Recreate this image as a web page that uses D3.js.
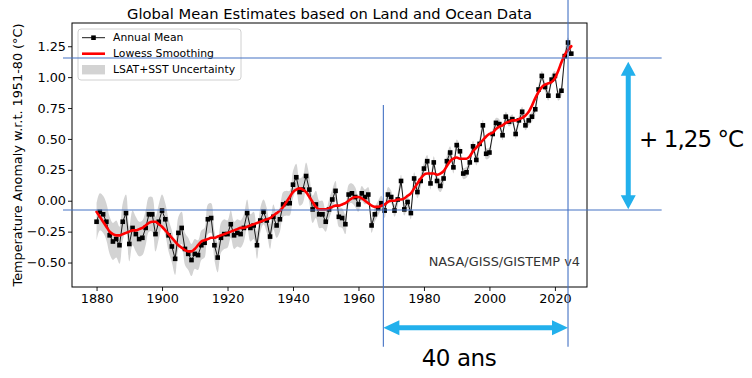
<!DOCTYPE html>
<html>
<head>
<meta charset="utf-8">
<script src="https://cdn.jsdelivr.net/npm/d3@7/dist/d3.min.js"></script>
<style>
  html, body { margin: 0; padding: 0; background: #fff; }
  svg { display: block; }
  text { font-family: "DejaVu Sans", sans-serif; }
</style>
</head>
<body>
<svg id="chart" width="752" height="378"></svg>
<script>
// ---------------- DATA ----------------
const firstYear = 1880;
const annualMean = [
  -0.17,-0.09,-0.11,-0.17,-0.28,-0.33,-0.31,-0.36,-0.17,-0.10,
  -0.35,-0.22,-0.27,-0.31,-0.30,-0.22,-0.11,-0.11,-0.27,-0.17,
  -0.08,-0.15,-0.28,-0.37,-0.47,-0.26,-0.22,-0.39,-0.43,-0.48,
  -0.43,-0.44,-0.36,-0.34,-0.15,-0.14,-0.36,-0.46,-0.30,-0.27,
  -0.27,-0.19,-0.28,-0.26,-0.27,-0.22,-0.10,-0.22,-0.20,-0.36,
  -0.16,-0.09,-0.16,-0.29,-0.13,-0.20,-0.15,-0.03,-0.02,-0.02,
   0.13, 0.19, 0.07, 0.09, 0.20, 0.09,-0.07,-0.03,-0.11,-0.11,
  -0.17,-0.07, 0.01, 0.08,-0.13,-0.14,-0.19, 0.05, 0.06, 0.03,
  -0.03, 0.06, 0.03, 0.05,-0.20,-0.11,-0.06,-0.02,-0.08, 0.05,
   0.03,-0.08, 0.01, 0.16,-0.07,-0.01,-0.10, 0.18, 0.07, 0.16,
   0.26, 0.32, 0.14, 0.31, 0.16, 0.12, 0.18, 0.32, 0.39, 0.27,
   0.45, 0.40, 0.22, 0.23, 0.31, 0.44, 0.33, 0.46, 0.61, 0.38,
   0.39, 0.54, 0.63, 0.62, 0.53, 0.68, 0.64, 0.66, 0.54, 0.65,
   0.72, 0.61, 0.65, 0.68, 0.74, 0.90, 1.01, 0.92, 0.85, 0.98,
   1.01, 0.85, 0.89, 1.17, 1.28, 1.19
];
const lowess = [
  -0.09,-0.13,-0.17,-0.21,-0.25,-0.27,-0.28,-0.28,-0.27,-0.26,
  -0.25,-0.24,-0.24,-0.23,-0.22,-0.20,-0.18,-0.17,-0.17,-0.19,
  -0.21,-0.24,-0.27,-0.30,-0.33,-0.36,-0.38,-0.40,-0.41,-0.41,
  -0.39,-0.36,-0.33,-0.32,-0.31,-0.30,-0.30,-0.29,-0.28,-0.27,
  -0.26,-0.25,-0.24,-0.23,-0.22,-0.22,-0.21,-0.20,-0.19,-0.18,
  -0.17,-0.16,-0.15,-0.14,-0.12,-0.10,-0.08,-0.05,-0.01, 0.03,
   0.07, 0.09, 0.10, 0.09, 0.07, 0.03,-0.01,-0.05,-0.07,-0.07,
  -0.07,-0.06,-0.05,-0.04,-0.04,-0.03,-0.02, 0.00, 0.02, 0.03,
   0.03, 0.02, 0.00,-0.02,-0.04,-0.05,-0.05,-0.04,-0.03,-0.01,
   0.00, 0.00, 0.01, 0.01, 0.02, 0.04, 0.06, 0.10, 0.14, 0.18,
   0.21, 0.22, 0.22, 0.22, 0.21, 0.22, 0.24, 0.28, 0.32, 0.34,
   0.35, 0.34, 0.34, 0.34, 0.36, 0.40, 0.43, 0.46, 0.49, 0.52,
   0.54, 0.55, 0.58, 0.60, 0.61, 0.63, 0.64, 0.65, 0.65, 0.66,
   0.67, 0.69, 0.72, 0.77, 0.83, 0.88, 0.92, 0.94, 0.95, 0.96,
   0.99, 1.05, 1.12, 1.18, 1.22, 1.25
];
// half-width of the uncertainty band, one value per decade (1880s ... 2020s)
const decadeUncertainty = [0.15,0.14,0.13,0.12,0.11,0.10,0.11,0.08,0.06,0.05,0.05,0.045,0.04,0.04,0.04];
const xTicks = [1880,1900,1920,1940,1960,1980,2000,2020];
const yTicks = [-0.50,-0.25,0.00,0.25,0.50,0.75,1.00,1.25];
const titleText = "Global Mean Estimates based on Land and Ocean Data";
const yLabelText = "Temperature Anomaly w.r.t. 1951-80 (°C)";
const legendLabels = ["Annual Mean", "Lowess Smoothing", "LSAT+SST Uncertainty"];
const sourceText = "NASA/GISS/GISTEMP v4";
// annotation (hand-drawn overlay) in data units
const annoHLines = [1.155, -0.075];
const annoVLines = [{year: 1967.6, top: 0.7745}, {year: 2024.0, top: 1.624}];
const annoSpanYears = [1967.6, 2024.0];
const annoDeltaValues = [1.125, -0.069];
const annoDeltaLabel = "+ 1,25 °C";
const annoSpanLabel = "40 ans";

// ---------------- CHART ----------------
const svg = d3.select("#chart");
const plot = {left: 72, right: 587, top: 23, bottom: 287};

const x = d3.scaleLinear().domain([1872.5, 2029.8]).range([plot.left, plot.right]);
const y = d3.scaleLinear().domain([-0.698, 1.438]).range([plot.bottom, plot.top]);

const data = annualMean.map((v, i) => ({
  year: firstYear + i,
  mean: v,
  smooth: lowess[i],
  unc: decadeUncertainty[Math.floor(i / 10)]
}));

// uncertainty band
const band = d3.area()
  .x(d => x(d.year))
  .y0(d => y(d.mean - d.unc))
  .y1(d => y(d.mean + d.unc))
  .curve(d3.curveCatmullRom.alpha(0.5));
svg.append("path").datum(data).attr("d", band)
  .attr("fill", "#d3d3d3").attr("stroke", "none");

// annual mean line
svg.append("path").datum(data)
  .attr("d", d3.line().x(d => x(d.year)).y(d => y(d.mean)))
  .attr("fill", "none").attr("stroke", "#000").attr("stroke-width", 0.9);

// markers
const ms = 4.6;
svg.append("g").selectAll("rect").data(data).join("rect")
  .attr("x", d => x(d.year) - ms / 2).attr("y", d => y(d.mean) - ms / 2)
  .attr("width", ms).attr("height", ms).attr("fill", "#000");

// lowess
svg.append("path").datum(data)
  .attr("d", d3.line().x(d => x(d.year)).y(d => y(d.smooth)).curve(d3.curveMonotoneX))
  .attr("fill", "none").attr("stroke", "#ff0000").attr("stroke-width", 2.6)
  .attr("stroke-linejoin", "round").attr("stroke-linecap", "round");

// axes
const fmt = v => d3.format(".2f")(v).replace("-", "\u2212");
const xAxis = svg.append("g").attr("transform", `translate(0,${plot.bottom})`)
  .call(d3.axisBottom(x).tickValues(xTicks).tickFormat(d3.format("d")).tickSize(4).tickPadding(3));
const yAxis = svg.append("g").attr("transform", `translate(${plot.left},0)`)
  .call(d3.axisLeft(y).tickValues(yTicks).tickFormat(fmt).tickSize(4).tickPadding(2));
[xAxis, yAxis].forEach(g => {
  g.select(".domain").remove();
  g.selectAll("text").attr("font-family", "DejaVu Sans").attr("font-size", 12.8).attr("fill", "#000");
  g.selectAll("line").attr("stroke", "#000").attr("stroke-width", 0.9);
});

// frame
svg.append("rect").attr("x", plot.left).attr("y", plot.top)
  .attr("width", plot.right - plot.left).attr("height", plot.bottom - plot.top)
  .attr("fill", "none").attr("stroke", "#000").attr("stroke-width", 1);

// title
svg.append("text").attr("x", (plot.left + plot.right) / 2).attr("y", 19)
  .attr("text-anchor", "middle").attr("font-size", 14.7).attr("fill", "#000").text(titleText);

// y label
svg.append("text")
  .attr("transform", `translate(22,${(plot.top + plot.bottom) / 2}) rotate(-90)`)
  .attr("text-anchor", "middle").attr("font-size", 12.8).attr("fill", "#000").text(yLabelText);

// source text
svg.append("text").attr("x", x(2027.66)).attr("y", y(-0.528))
  .attr("text-anchor", "end").attr("font-size", 12.9).attr("fill", "#333").text(sourceText);

// legend
const lg = svg.append("g");
lg.append("rect").attr("x", 78).attr("y", 29).attr("width", 163).attr("height", 51)
  .attr("rx", 3).attr("fill", "#fff").attr("fill-opacity", 0.8)
  .attr("stroke", "#d0d0d0").attr("stroke-width", 1);
const lgY = [37.7, 53.7, 69.7];
lg.append("line").attr("x1", 82).attr("x2", 105).attr("y1", lgY[0]).attr("y2", lgY[0])
  .attr("stroke", "#000").attr("stroke-width", 0.9);
lg.append("rect").attr("x", 93.5 - ms / 2).attr("y", lgY[0] - ms / 2).attr("width", ms).attr("height", ms).attr("fill", "#000");
lg.append("line").attr("x1", 82).attr("x2", 105).attr("y1", lgY[1]).attr("y2", lgY[1])
  .attr("stroke", "#ff0000").attr("stroke-width", 2.6);
lg.append("rect").attr("x", 82).attr("y", lgY[2] - 4.7).attr("width", 23).attr("height", 9.4).attr("fill", "#d3d3d3");
legendLabels.forEach((t, i) => {
  lg.append("text").attr("x", 113).attr("y", lgY[i] + 3.7)
    .attr("font-size", 10.8).attr("fill", "#000").text(t);
});

// ---------------- ANNOTATIONS ----------------
const blue = "#4472C4", cyan = "#22B0EC";
const an = svg.append("g");
annoHLines.forEach(v => {
  an.append("line").attr("x1", x(1869.75)).attr("x2", x(2052.6))
    .attr("y1", y(v)).attr("y2", y(v)).attr("stroke", blue).attr("stroke-width", 1.1);
});
annoVLines.forEach(d => {
  an.append("line").attr("x1", x(d.year)).attr("x2", x(d.year))
    .attr("y1", y(d.top)).attr("y2", y(-1.181)).attr("stroke", blue).attr("stroke-width", 1.1);
});

function doubleArrow(x1, y1, x2, y2, shaft, headLen, headW) {
  const dx = x2 - x1, dy = y2 - y1, L = Math.hypot(dx, dy);
  const ux = dx / L, uy = dy / L, px = -uy, py = ux;
  const pt = (t, w) => [x1 + ux * t + px * w, y1 + uy * t + py * w];
  const pts = [
    pt(0, 0), pt(headLen, headW / 2), pt(headLen, shaft / 2), pt(L - headLen, shaft / 2),
    pt(L - headLen, headW / 2), pt(L, 0), pt(L - headLen, -headW / 2), pt(L - headLen, -shaft / 2),
    pt(headLen, -shaft / 2), pt(headLen, -headW / 2)
  ];
  an.append("path").attr("d", "M" + pts.map(p => p.join(",")).join("L") + "Z").attr("fill", cyan);
}
doubleArrow(x(annoSpanYears[0]), y(-1.027), x(annoSpanYears[1]), y(-1.027), 5, 16, 15);
doubleArrow(x(2042.4), y(annoDeltaValues[0]), x(2042.4), y(annoDeltaValues[1]), 5, 14, 15);

an.append("text").attr("x", x(2045.7)).attr("y", y(0.435))
  .attr("font-family", "Lato, 'Open Sans', sans-serif").attr("font-size", 23)
  .attr("textLength", 105).attr("lengthAdjust", "spacing").attr("fill", "#000")
  .text(annoDeltaLabel);
an.append("text").attr("x", x(1979.3)).attr("y", y(-1.337))
  .attr("font-family", "Lato, 'Open Sans', sans-serif").attr("font-size", 23)
  .attr("textLength", 75).attr("lengthAdjust", "spacing").attr("fill", "#000")
  .text(annoSpanLabel);
</script>
</body>
</html>
